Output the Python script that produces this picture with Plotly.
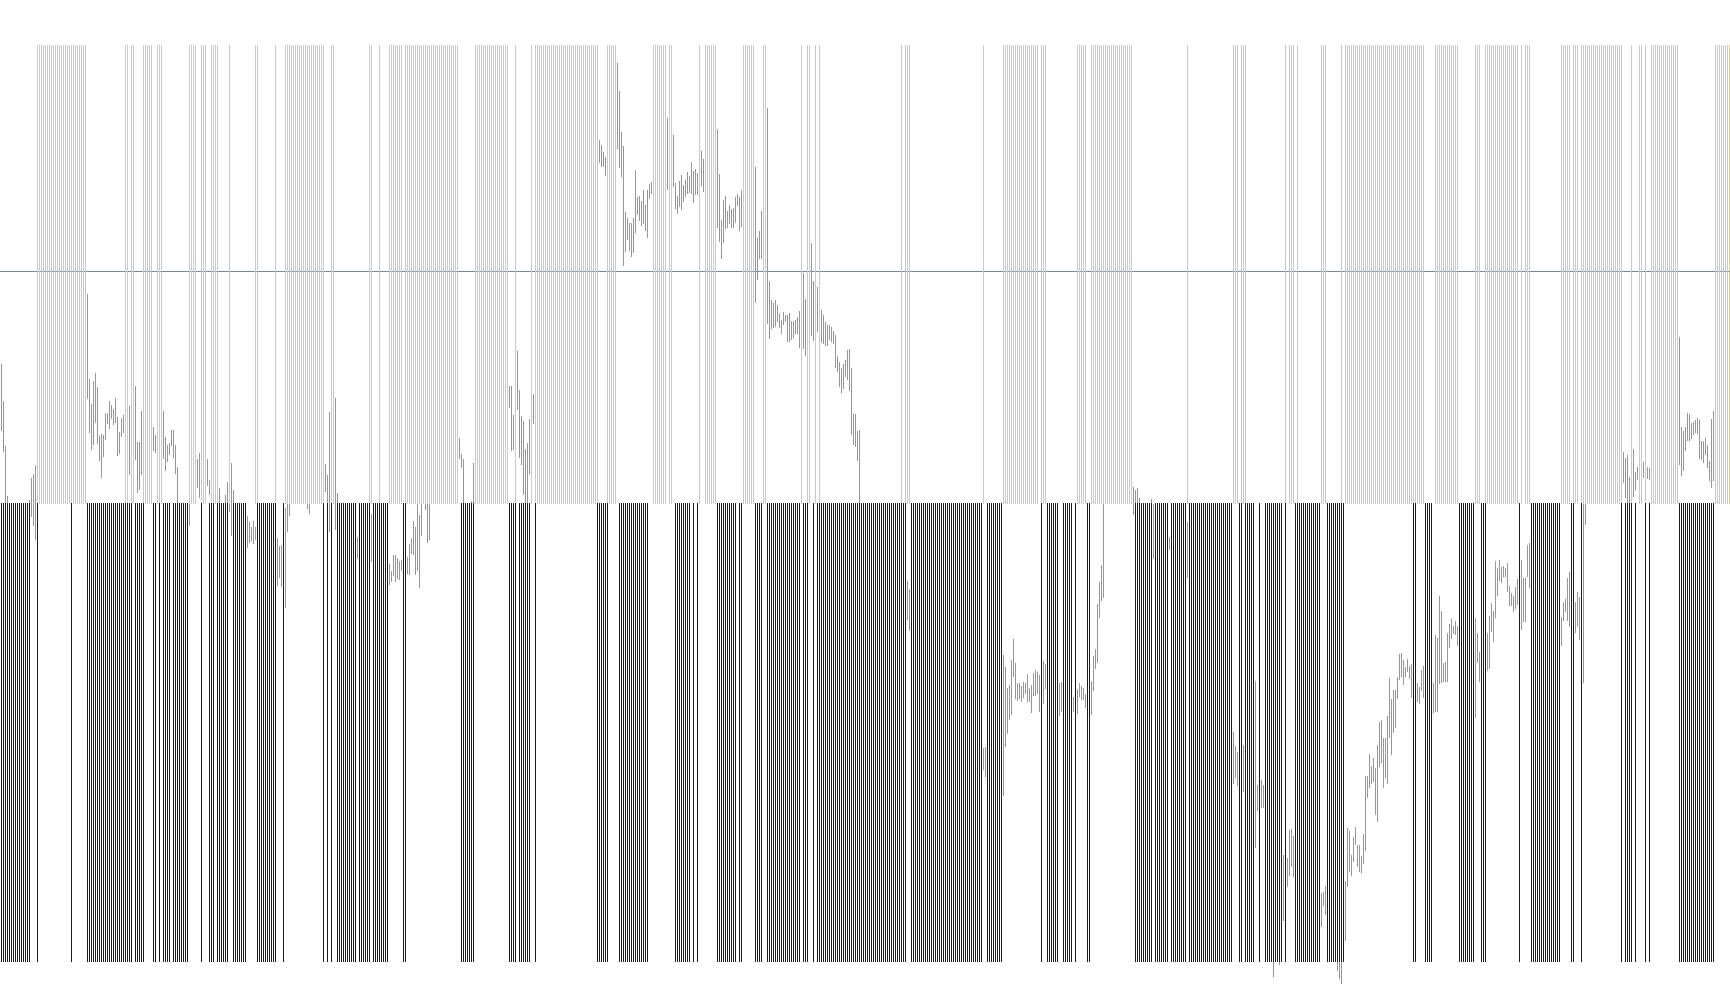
import plotly.graph_objects as go

# column index of each bar (865 columns across the chart)
N_COLUMNS = 865

# signal columns, as inclusive (first, last) runs
yellow_runs = [(18,42),(62,63),(65,66),(71,75),(78,80),(94,97),(100,102),(105,108),(114,114),(127,128),(137,137),
 (142,161),(165,166),(184,185),(189,189),(194,200),(202,228),(237,253),(257,257),(265,265),(267,298),(303,307),
 (326,332),(334,335),(349,349),(352,357),(371,376),(381,382),(400,400),(403,404),(407,407),(409,409),
 (450,450),(452,454),(491,491),(501,518),(520,522),(538,542),(545,565),(593,593),(616,618),(620,622),(642,642),(644,646),
 (648,648),(660,662),(670,670),(672,711),(717,728),(737,739),(742,758),(760,760),(762,764),(780,784),(786,788),
 (790,810),(815,815),(819,820),(822,822),(825,838),(857,864)]

blue_runs = [(0,14),(18,18),(35,35),(43,65),(67,71),(76,77),(79,79),(81,84),(86,93),(100,100),(104,106),(108,113),
 (116,122),(128,137),(141,141),(161,161),(163,163),(165,165),(168,177),(179,184),(186,193),(201,202),
 (230,236),(254,257),(259,264),(267,267),(298,303),(309,323),(337,344),(346,346),(348,348),(358,367),(369,370),
 (377,380),(383,399),(401,403),(406,406),(408,452),(455,490),(493,500),(520,520),(523,528),(531,535),(537,537),
 (543,544),(567,575),(577,583),(585,592),(594,615),(619,620),(622,626),(629,629),(632,640),(642,642),(647,659),
 (663,671),(706,707),(712,715),(729,736),(740,742),(759,759),(765,779),(785,786),(790,790),(810,810),(812,815),
 (817,817),(822,822),(824,824),(839,856)]

yellow_top, signal_mid_up = 45, 504
blue_top, blue_bottom = 503, 962
level_line = 271.5

green_col = [
 0,1,2,3,14,15,16,17,
 43,44,45,46,47,48,49,50,51,52,53,54,55,56,57,58,59,60,61,
 64,67,68,69,70,76,77,81,82,83,84,85,86,87,88,94,98,99,103,104,109,112,113,114,115,116,
 123,124,125,126,127,138,139,140,142,143,144,153,154,162,163,164,167,168,178,185,
 194,195,196,197,198,199,200,203,204,205,206,207,208,209,210,212,213,214,
 229,230,231,235,236,254,255,256,258,259,260,261,262,263,264,266,
 299,300,301,302,308,309,310,311,312,313,314,315,316,317,318,319,320,321,322,323,324,325,
 333,336,337,338,339,340,341,342,343,344,345,346,347,348,350,351,
 358,359,360,361,362,363,364,365,366,367,368,369,370,377,378,379,380,
 383,384,385,386,387,388,389,390,391,392,393,394,395,396,397,398,399,401,402,405,406,408,
 410,411,412,413,414,415,416,417,418,419,420,421,422,423,424,425,426,427,428,429,
 453,454,491,492,501,502,503,504,505,506,507,508,509,510,511,512,513,514,515,516,517,518,519,521,522,
 529,530,536,538,539,540,541,542,545,546,547,548,549,550,551,566,567,568,569,575,576,584,593,
 616,617,618,621,627,628,630,631,636,639,641,643,644,645,646,
 660,661,662,668,669,670,672,673,674,675,676,677,678,679,680,681,682,
 683,684,685,686,687,688,689,690,691,692,693,694,695,696,697,698,699,700,701,702,703,704,705,
 708,709,710,711,716,717,718,719,720,721,722,723,724,725,726,727,728,737,738,739,
 743,744,745,746,747,748,749,750,751,752,753,754,755,756,757,758,760,761,762,763,764,
 780,781,782,783,784,787,788,789,791,792,
 811,812,813,814,816,817,818,821,823,824,
 839,840,841,842,843,844,845,846,847,848,849,850,851,852,853,854,855,856]

green_top = [
 364,401,446,496,500,478,474,465,
 294,379,404,381,373,387,436,434,435,413,413,401,405,409,398,417,432,418,415,
 406,386,442,442,411,427,435,411,437,445,443,430,430,445,467,500,459,453,459,480,488,495,482,500,463,490,
 516,522,527,521,527,538,546,545,508,504,504,504,504,464,475,412,398,493,537,514,
 564,571,555,555,558,561,560,557,544,538,521,527,504,515,504,504,504,504,
 438,454,459,501,463,386,386,415,351,390,416,421,449,443,419,394,
 140,145,152,157,63,91,132,146,212,218,223,223,218,170,197,196,201,190,205,190,184,182,
 118,135,183,196,181,175,185,180,172,176,162,171,169,173,151,159,
 129,174,220,200,196,211,205,209,208,197,194,197,190,167,238,231,211,
 108,281,300,303,300,305,313,320,312,315,315,313,321,321,320,317,311,273,299,243,281,287,
 310,315,322,325,325,327,331,335,356,362,368,364,360,350,349,368,414,414,431,430,
 581,589,748,747,655,667,688,685,660,639,663,683,683,686,682,683,674,688,685,673,670,672,675,661,664,
 683,682,697,689,683,686,688,694,681,656,649,604,582,565,504,487,490,488,498,499,504,537,522,
 732,746,752,745,681,785,780,785,950,950,855,858,830,829,836,
 893,892,886,950,950,950,881,828,831,855,837,827,845,845,856,834,776,
 776,754,766,758,768,745,722,720,738,738,716,678,699,690,690,677,654,653,660,667,659,666,664,
 683,687,670,666,683,635,638,596,611,663,662,633,624,619,626,621,626,618,633,652,
 633,616,603,611,561,568,560,567,566,568,563,586,593,596,587,579,560,578,578,545,543,
 617,602,599,578,572,602,592,597,504,504,
 452,458,455,477,449,472,467,462,467,468,
 337,427,431,427,413,414,423,422,420,418,420,441,441,438,445,461,419,411]

green_bottom = [
 431,452,510,510,510,517,526,540,
 399,433,450,445,423,444,461,478,457,440,424,429,419,425,423,456,454,437,433,
 475,460,493,490,475,451,453,459,471,462,455,446,458,474,510,526,488,498,486,495,510,510,510,512,536,510,
 548,543,541,544,540,586,578,587,608,532,516,509,514,492,510,532,530,510,559,562,
 585,582,576,582,579,580,571,574,575,554,555,575,571,588,536,510,543,540,
 459,468,510,510,510,408,451,450,410,458,465,495,510,510,474,424,
 163,167,167,176,149,168,177,266,252,240,251,257,253,233,215,221,226,224,231,238,199,194,
 190,187,209,214,207,210,202,197,194,193,194,203,195,195,186,192,
 228,242,259,243,229,228,224,228,228,223,206,231,227,303,280,259,259,
 324,339,329,328,327,322,328,334,325,322,342,342,340,338,334,334,348,349,356,336,341,332,
 343,344,346,346,340,342,344,368,372,387,393,389,377,380,391,435,445,447,461,510,
 620,631,770,777,796,747,734,720,715,677,699,701,699,702,698,694,702,702,713,696,696,694,712,704,689,
 716,712,712,714,697,700,700,708,715,691,669,663,618,601,598,515,510,510,510,510,559,550,578,
 784,778,786,792,848,811,808,808,977,965,921,887,876,867,877,
 927,906,915,971,979,984,941,887,872,876,862,845,867,872,873,864,851,
 798,788,784,782,815,822,767,763,788,778,784,738,755,733,728,699,680,677,685,677,672,679,698,
 702,704,691,698,713,712,712,684,683,682,682,682,648,639,634,635,646,718,663,682,
 671,669,632,642,618,596,581,583,577,577,592,606,606,612,609,605,630,622,622,577,588,
 646,621,612,621,627,633,627,640,683,525,
 483,498,503,503,497,490,480,478,479,480,
 465,476,471,451,441,441,439,435,433,434,459,460,463,455,468,481,488,481]

assert len(green_col) == len(green_top) == len(green_bottom), (len(green_col), len(green_top), len(green_bottom))


def expand(runs):
    return [k for a, b in runs for k in range(a, b + 1)]


yellow_cols = expand(yellow_runs)
blue_cols = expand(blue_runs)
# Slightly under half a column so plotly's pixel snapping lands each bar on exactly 1px.
X_OFFSET, BAR_WIDTH = 0.75, 0.48

fig = go.Figure()
fig.add_shape(type="line", xref="paper", yref="y", x0=0, x1=1, y0=level_line, y1=level_line,
              line=dict(color="#778899", width=1), layer="below")
fig.add_trace(go.Bar(x=[k + X_OFFSET for k in green_col],
                     y=[b - t for t, b in zip(green_top, green_bottom)], base=green_top,
                     width=BAR_WIDTH, marker=dict(color="#00ff00", line=dict(width=0)), hoverinfo="skip"))
fig.add_trace(go.Bar(x=[k + X_OFFSET for k in yellow_cols],
                     y=[signal_mid_up - yellow_top] * len(yellow_cols), base=[yellow_top] * len(yellow_cols),
                     width=BAR_WIDTH, marker=dict(color="#ffd700", line=dict(width=0)), hoverinfo="skip"))
fig.add_trace(go.Bar(x=[k + X_OFFSET for k in blue_cols],
                     y=[blue_bottom - blue_top] * len(blue_cols), base=[blue_top] * len(blue_cols),
                     width=BAR_WIDTH, marker=dict(color="#0000ff", line=dict(width=0)), hoverinfo="skip"))
fig.update_layout(width=1730, height=1005, margin=dict(l=0, r=0, t=0, b=0), barmode="overlay",
                  showlegend=False, paper_bgcolor="white", plot_bgcolor="white",
                  xaxis=dict(range=[0, N_COLUMNS], visible=False, fixedrange=True),
                  yaxis=dict(range=[1005, 0], visible=False, fixedrange=True))
fig.write_html("out.html", config=dict(displayModeBar=False),
               post_script="document.body.style.margin='0';document.body.style.overflow='hidden';")
